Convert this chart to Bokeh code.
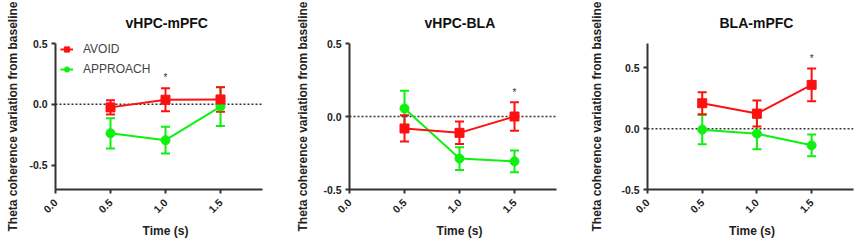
from bokeh.plotting import figure
from bokeh.layouts import row
from bokeh.models import (ColumnDataSource, Whisker, TeeHead, FixedTicker, NumeralTickFormatter,
                          Legend, LegendItem, Title)
from bokeh.core.properties import value
from bokeh.embed import file_html
from bokeh.resources import INLINE

# ---------------- data ----------------
times = [0.5, 1.0, 1.5]
x_ticks = [0.0, 0.5, 1.0, 1.5]
y_ticks = [-0.5, 0.0, 0.5]

titles = ["vHPC-mPFC", "vHPC-BLA", "BLA-mPFC"]

avoid_mean = [[-0.025, 0.038, 0.040], [-0.082, -0.112, 0.000], [0.209, 0.124, 0.360]]
avoid_sem = [[0.058, 0.095, 0.100], [0.090, 0.077, 0.097], [0.090, 0.107, 0.135]]
approach_mean = [[-0.238, -0.295, -0.018], [0.055, -0.288, -0.307], [-0.008, -0.041, -0.137]]
approach_sem = [[0.124, 0.110, 0.160], [0.122, 0.078, 0.074], [0.120, 0.128, 0.090]]

star_x = [[1.0], [1.5], [1.5]]
star_y = [[0.22], [0.165], [0.58]]

y_ranges = [(-0.7, 0.5), (-0.5, 0.5), (-0.5, 0.7)]

# ---------------- style / layout ----------------
FONT = "Liberation Sans"
RED = "#FF1010"
GREEN = "#10F010"
AXIS = "#333333"
X_END = 1.88
widths = [285, 285, 286]
lefts = [55, 64, 77]
x_max = [2.0, 2.0, 1.91]
rights = [10, 1, 0]
title_offsets = [70, 75, 72]
ylabel_standoffs = [6, 10, 14]

figs = []
for i in range(3):
    p = figure(width=widths[i], height=241, output_backend="svg", toolbar_location=None,
               x_range=(0, x_max[i]), y_range=y_ranges[i],
               min_border_left=lefts[i], min_border_right=rights[i],
               min_border_top=43, min_border_bottom=51)
    p.title = Title(text=titles[i], align="left", offset=title_offsets[i],
                    text_font=FONT, text_font_size="14px", text_font_style="bold",
                    text_color="#111111", standoff=25)
    p.outline_line_color = None
    p.grid.visible = False
    p.background_fill_color = "white"
    p.border_fill_color = "white"

    xa = p.xaxis[0]
    xa.ticker = FixedTicker(ticks=x_ticks)
    xa.formatter = NumeralTickFormatter(format="0.0")
    xa.bounds = (0, X_END)
    xa.major_label_orientation = 0.785
    xa.axis_label = "Time (s)"
    xa.axis_label_standoff = 5

    ya = p.yaxis[0]
    ya.ticker = FixedTicker(ticks=y_ticks)
    ya.formatter = NumeralTickFormatter(format="0.0")
    ya.axis_label = "Theta coherence variation from baseline"
    ya.axis_label_standoff = ylabel_standoffs[i]

    for ax in (xa, ya):
        ax.axis_line_color = AXIS
        ax.axis_line_width = 2
        ax.major_tick_line_color = AXIS
        ax.major_tick_line_width = 2
        ax.major_tick_out = 4
        ax.major_tick_in = 0
        ax.minor_tick_line_color = None
        ax.major_label_text_font = FONT
        ax.major_label_text_font_size = "10.5px"
        ax.major_label_text_font_style = "bold"
        ax.major_label_text_color = "#222222"
        ax.axis_label_text_font = FONT
        ax.axis_label_text_font_size = "12px"
        ax.axis_label_text_font_style = "bold"
        ax.axis_label_text_color = "#222222"
    xa.major_label_standoff = 7
    ya.major_label_standoff = 4

    # zero reference line
    p.line([0, X_END], [0, 0], line_color=AXIS, line_width=1.5, line_dash="2 2")

    renderers = {}
    for name, mean, sem, color, marker in (
            ("APPROACH", approach_mean[i], approach_sem[i], GREEN, "circle"),
            ("AVOID", avoid_mean[i], avoid_sem[i], RED, "square")):
        src = ColumnDataSource(dict(x=times, y=mean,
                                    upper=[m + s for m, s in zip(mean, sem)],
                                    lower=[m - s for m, s in zip(mean, sem)]))
        w = Whisker(base="x", upper="upper", lower="lower", source=src,
                    line_color=color, line_width=2,
                    upper_head=TeeHead(size=9, line_color=color, line_width=2),
                    lower_head=TeeHead(size=9, line_color=color, line_width=2))
        p.add_layout(w)
        ln = p.line("x", "y", source=src, line_color=color, line_width=2)
        sc = p.scatter("x", "y", source=src, marker=marker, size=9,
                       fill_color=color, line_color=color)
        renderers[name] = [ln, sc]

    p.text(x=star_x[i], y=star_y[i], text=["*"] * len(star_x[i]),
           text_font=value(FONT), text_font_size="10px", text_color="#333333",
           text_align="center", text_baseline="middle")

    if i == 0:
        legend = Legend(items=[LegendItem(label="AVOID", renderers=renderers["AVOID"]),
                               LegendItem(label="APPROACH", renderers=renderers["APPROACH"])],
                        location=(5, 110), orientation="vertical",
                        padding=0, margin=0, spacing=0,
                        glyph_width=13, glyph_height=20, label_height=20,
                        label_standoff=10,
                        label_text_font=FONT, label_text_font_size="12px",
                        label_text_color="#444444",
                        background_fill_alpha=0, border_line_color=None)
        p.add_layout(legend)

    figs.append(p)

layout = row(*figs, spacing=0)

open("out.html", "w").write(file_html(layout, INLINE))
